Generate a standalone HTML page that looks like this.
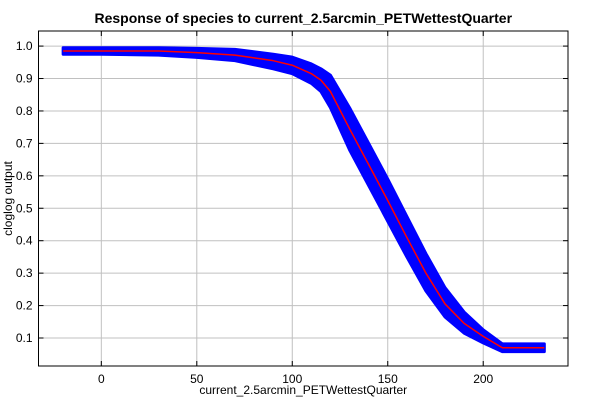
<!DOCTYPE html>
<html><head><meta charset="utf-8"><style>
body{margin:0;background:#fff;width:600px;height:400px;overflow:hidden;font-family:"Liberation Sans",Arial,sans-serif}
</style></head><body>
<svg id="chart" width="600" height="400"></svg>
<script>
const xs    = [-20, 0, 30, 50, 70, 90, 100, 110, 115, 120, 130, 140, 150, 160, 170, 180, 190, 200, 210, 232];
const mean  = [0.985,0.985,0.985,0.98,0.972,0.955,0.941,0.915,0.895,0.86,0.745,0.635,0.524,0.41,0.30,0.205,0.145,0.105,0.07,0.07];
const upper = [0.995,0.995,0.995,0.993,0.99,0.975,0.966,0.945,0.93,0.91,0.81,0.70,0.59,0.475,0.36,0.255,0.18,0.125,0.082,0.082];
const lower = [0.975,0.975,0.972,0.965,0.955,0.93,0.915,0.885,0.86,0.81,0.68,0.57,0.46,0.35,0.245,0.165,0.115,0.085,0.058,0.058];
const xTicks = [0,50,100,150,200];
const yTicks = [0.1,0.2,0.3,0.4,0.5,0.6,0.7,0.8,0.9,1.0];
const L=38.5,R=568,T=31,B=366;
const xMin=-32.9,xMax=244.4,yMin=0.0137,yMax=1.0465;
const X=v=>L+(v-xMin)/(xMax-xMin)*(R-L);
const Y=v=>B-(v-yMin)/(yMax-yMin)*(B-T);
const svg=document.getElementById('chart');
const NS='http://www.w3.org/2000/svg';
function mk(t,a,txt){const e=document.createElementNS(NS,t);for(const k in a)e.setAttribute(k,a[k]);if(txt!==undefined)e.textContent=txt;svg.appendChild(e);return e;}
let e;
e=mk('rect',{x:L,y:T,width:R-L,height:B-T,fill:'#fff'});


xTicks.forEach(v=>{
 e=mk('line',{x1:X(v),x2:X(v),y1:T,y2:B,stroke:'#c0c0c0','stroke-width':1});
 
 
 mk('line',{x1:X(v),x2:X(v),y1:B,y2:B-5,stroke:'#000'});
 mk('line',{x1:X(v),x2:X(v),y1:T,y2:T+5,stroke:'#000'});
 e=mk('text',{x:X(v),y:B+17,'text-anchor':'middle','font-size':12},String(v));
 
 
});
yTicks.forEach(v=>{
 e=mk('line',{x1:L,x2:R,y1:Y(v),y2:Y(v),stroke:'#c0c0c0','stroke-width':1});
 
 
 mk('line',{x1:L,x2:L+5,y1:Y(v),y2:Y(v),stroke:'#000'});
 mk('line',{x1:R,x2:R-5,y1:Y(v),y2:Y(v),stroke:'#000'});
 e=mk('text',{x:L-6,y:Y(v)+4,'text-anchor':'end','font-size':12},v.toFixed(1));
 
 
});
let d='M'+xs.map((x,i)=>X(x)+','+Y(upper[i])).join('L');
for(let i=xs.length-1;i>=0;i--)d+='L'+X(xs[i])+','+Y(lower[i]);
e=mk('path',{d:d+'Z',fill:'#0000ff',stroke:'#0000ff','stroke-width':3,'stroke-linejoin':'round'});


e=mk('polyline',{points:xs.map((x,i)=>X(x)+','+Y(mean[i])).join(' '),fill:'none',stroke:'#ff0000','stroke-width':1.5,'stroke-linejoin':'round'});


e=mk('rect',{x:L,y:T,width:R-L,height:B-T,fill:'none',stroke:'#000','stroke-width':1});


e=mk('text',{x:(L+R)/2,y:23,'text-anchor':'middle','font-size':14,'font-weight':'bold'},'Response of species to current_2.5arcmin_PETWettestQuarter');


e=mk('text',{x:(L+R)/2,y:394,'text-anchor':'middle','font-size':12},'current_2.5arcmin_PETWettestQuarter');


e=mk('text',{x:12,y:(T+B)/2,'text-anchor':'middle','font-size':12,transform:'rotate(-90 12 '+((T+B)/2)+')'},'cloglog output');


</script>
</body></html>
